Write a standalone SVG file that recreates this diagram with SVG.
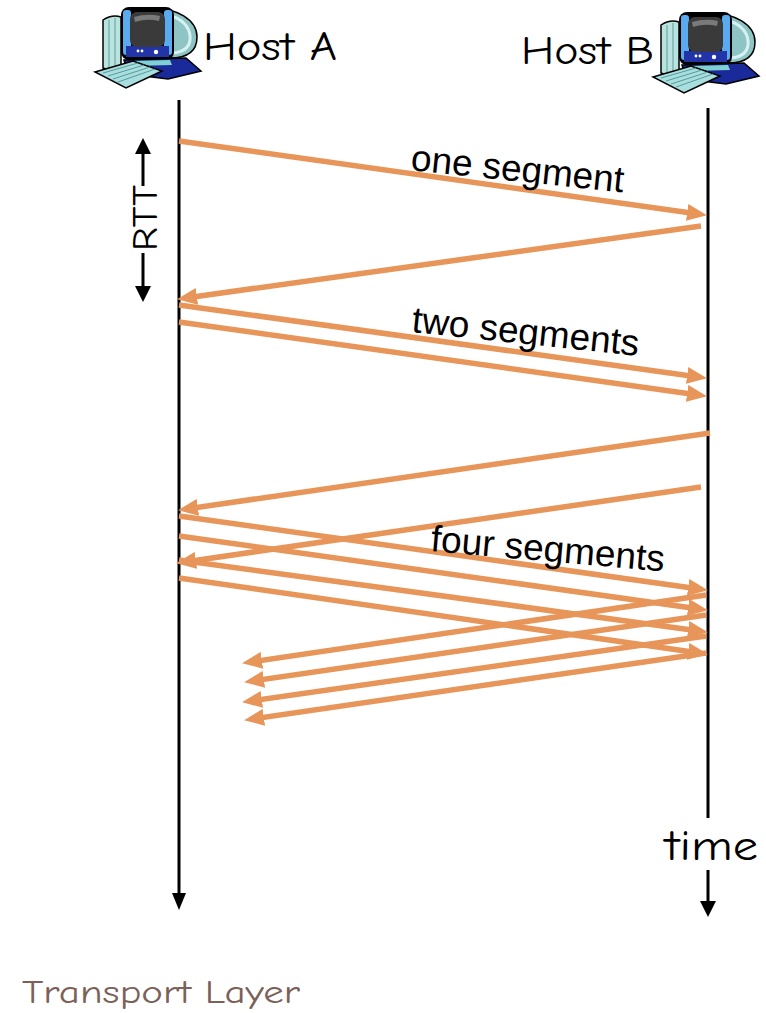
<svg xmlns="http://www.w3.org/2000/svg" width="766" height="1013" viewBox="0 0 766 1013">
  <style>
    .seg { stroke: #e8955a; stroke-width: 5.5; fill: none; marker-end: url(#orange-head); }
    .axis { stroke: #000; stroke-width: 3; fill: none; }
    .head { fill: #000; }
    .label { font-family: "Liberation Sans", Arial, sans-serif; font-size: 37px; fill: #000; }
    .hand { font-family: "Comic Sans MS", "Comic Neue", "DejaVu Sans", sans-serif; fill: #000; }
  </style>
  <defs>
    <marker id="orange-head" viewBox="0 0 20 17" refX="13" refY="8.5" markerWidth="20" markerHeight="17" markerUnits="userSpaceOnUse" orient="auto">
      <path d="M0,0 L20,8.5 L0,17 Z" fill="#e8955a"/>
    </marker>
    <!-- desktop computer clip-art icon -->
    <g id="pc-icon">
      <!-- tower -->
      <path d="M103,20 L103,68 Q111,72 121,70 L121,17 Q112,14 103,20 Z" fill="#b8e3df" stroke="#000" stroke-width="1.5"/>
      <path d="M109,20 L109,69 M115,18 L115,70" stroke="#7fb5b3" stroke-width="1.5"/>
      <!-- monitor housing -->
      <path d="M150,9 C177,7 197,20 197,37 C197,52 187,58 170,58 L158,58 Z" fill="#8fc4c4" stroke="#000" stroke-width="1.5"/>
      <path d="M171,16 C185,20 191,30 190,40 C189,48 183,52 173,53" fill="none" stroke="#d6f1f1" stroke-width="3"/>
      <!-- monitor front -->
      <rect x="121" y="7" width="53" height="53" rx="8" fill="#000"/>
      <rect x="123" y="10" width="8" height="45" rx="3" fill="#5aaaf0"/>
      <rect x="164" y="10" width="8" height="45" rx="3" fill="#5aaaf0"/>
      <rect x="126" y="46" width="43" height="11" fill="#2234a8"/>
      <rect x="130" y="12" width="35" height="35" rx="7" fill="#3a3a3a"/>
      <path d="M134,17 Q147,13 160,16 L159,21 Q147,18 135,22 Z" fill="#7a7a7a"/>
      <circle cx="138" cy="51" r="1.4" fill="#fff"/>
      <circle cx="142" cy="51" r="1.4" fill="#fff"/>
      <circle cx="156" cy="52" r="2.2" fill="#fff"/>
      <!-- base -->
      <path d="M124,60 L186,58 L201,71 L168,79 L128,74 Z" fill="#1a2a9a" stroke="#000" stroke-width="1.5"/>
      <path d="M132,61 L170,60 L172,65 L134,66 Z" fill="#7fd0d0"/>
      <!-- keyboard -->
      <path d="M95,72 L133,61 L162,71 L126,88 Z" fill="#a8dede" stroke="#000" stroke-width="1.5"/>
      <path d="M103,73 L138,63 M108,76 L144,65 M113,79 L150,67 M118,82 L155,69" stroke="#5a9a9a" stroke-width="1"/>
    </g>
  </defs>

  <rect width="766" height="1013" fill="#fff"/>

  <!-- Host A -->
  <g id="host-a">
    <use href="#pc-icon"/>
    <text class="hand" x="203" y="60" font-size="40" textLength="134" lengthAdjust="spacingAndGlyphs">Host A</text>
    <line class="axis" x1="179" y1="100" x2="179" y2="895"/>
    <path class="head" d="M172,893 L186,893 L179,910 Z"/>
  </g>

  <!-- Host B -->
  <g id="host-b">
    <use href="#pc-icon" transform="translate(558,5)"/>
    <text class="hand" x="521" y="64" font-size="40" textLength="133" lengthAdjust="spacingAndGlyphs">Host B</text>
    <line class="axis" x1="708" y1="108" x2="708" y2="818"/>
    <line class="axis" x1="708" y1="870" x2="708" y2="903"/>
    <path class="head" d="M700,901 L716,901 L708,917 Z"/>
    <text class="hand" x="665" y="860" font-size="42" textLength="93" lengthAdjust="spacingAndGlyphs">time</text>
  </g>

  <!-- RTT marker -->
  <g id="rtt">
    <line class="axis" x1="143" y1="152" x2="143" y2="186"/>
    <path class="head" d="M135,154 L151,154 L143,138 Z"/>
    <line class="axis" x1="143" y1="253" x2="143" y2="288"/>
    <path class="head" d="M135,286 L151,286 L143,302 Z"/>
    <text class="hand" transform="translate(157,218) rotate(-90)" text-anchor="middle" font-size="36" textLength="66" lengthAdjust="spacingAndGlyphs">RTT</text>
  </g>

  <!-- segment and ACK connectors -->
  <g id="connectors">
    <line class="seg" x1="179" y1="141" x2="700" y2="214.2"/>
    <line class="seg" x1="701" y1="226" x2="184" y2="298.2"/>
    <line class="seg" x1="179" y1="305" x2="700" y2="377.2"/>
    <line class="seg" x1="179" y1="322" x2="700" y2="395.2"/>
    <line class="seg" x1="710" y1="433" x2="185" y2="509.2"/>
    <line class="seg" x1="701" y1="487" x2="183" y2="562.2"/>
    <line class="seg" x1="179" y1="516" x2="701" y2="589.2"/>
    <line class="seg" x1="179" y1="536" x2="701" y2="609.2"/>
    <line class="seg" x1="179" y1="560" x2="701" y2="631.2"/>
    <line class="seg" x1="179" y1="578" x2="701" y2="653.2"/>
    <line class="seg" x1="706" y1="595" x2="249" y2="662.2"/>
    <line class="seg" x1="706" y1="615" x2="251" y2="681.2"/>
    <line class="seg" x1="706" y1="636" x2="249" y2="701.2"/>
    <line class="seg" x1="706" y1="653" x2="251" y2="719.2"/>
  </g>

  <!-- connector labels -->
  <g id="labels">
    <text class="label" transform="translate(410,170) rotate(6)">one segment</text>
    <text class="label" transform="translate(411,332) rotate(6)">two segments</text>
    <text class="label" transform="translate(430,551) rotate(5)">four segments</text>
  </g>

  <text x="22" y="1003" font-family="'Comic Sans MS', 'Comic Neue', 'DejaVu Sans', sans-serif" font-size="32" fill="#7b6158" textLength="278" lengthAdjust="spacingAndGlyphs">Transport Layer</text>
</svg>
